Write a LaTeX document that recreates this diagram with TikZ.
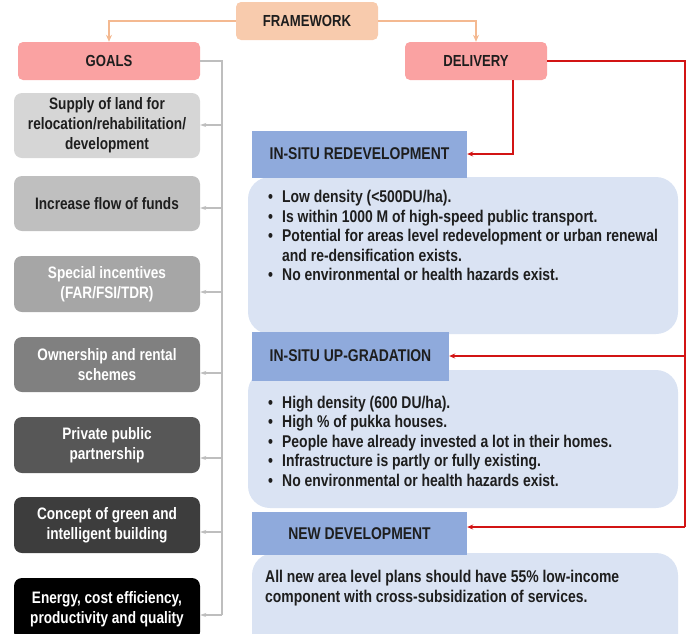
\documentclass[tikz,border=0pt]{standalone}
\usepackage{fontspec}
\setmainfont{Liberation Sans}[FakeStretch=0.82]
\usetikzlibrary{arrows.meta}
\definecolor{peach}{RGB}{248,203,173}
\definecolor{peachline}{RGB}{244,185,145}
\definecolor{pinkbox}{RGB}{250,162,162}
\definecolor{headblue}{RGB}{143,170,220}
\definecolor{bodyblue}{RGB}{218,227,243}
\definecolor{redline}{RGB}{210,20,20}
\definecolor{greyline}{RGB}{190,190,190}
\definecolor{textdark}{RGB}{30,30,30}
\newcommand{\bul}{\makebox[17pt][l]{\hspace{3pt}•}}
\newcommand{\ind}{\hspace*{17pt}}

\begin{document}
\begin{tikzpicture}[x=1pt,y=-1pt,
  top node/.style={rounded corners=5pt,inner sep=0pt,text=textdark,
    font=\fontsize{16}{19}\selectfont\bfseries},
  goal node/.style={rounded corners=8pt,inner sep=0pt,minimum width=186pt,
    align=center,font=\fontsize{16.6}{20}\selectfont\bfseries},
  head node/.style={inner sep=0pt,fill=headblue,text=textdark,
    font=\fontsize{17}{20}\selectfont\bfseries},
  body box/.style={inner sep=0pt,fill=bodyblue,rounded corners=22pt},
  list text/.style={anchor=base west,inner sep=0pt,align=left,text=textdark,
    font=\fontsize{17}{19.5}\selectfont\bfseries},
  red arrow/.style={draw=redline,line width=1.3pt,-{Stealth[length=6pt,width=5pt]}},
  grey arrow/.style={draw=greyline,line width=1.2pt,-{Stealth[length=6pt,width=4pt]}},
  peach arrow/.style={draw=peachline,line width=1.5pt,-{Stealth[length=7pt,width=6pt]}}]

  \useasboundingbox (0,0) rectangle (688,633);
  \clip (0,0) rectangle (688,633);

  % top row
  \node[top node,fill=peach,minimum width=142pt,minimum height=38pt] (frame) at (307,21) {FRAMEWORK};
  \node[top node,fill=pinkbox,minimum width=182pt,minimum height=38pt] (goals) at (109,61) {GOALS};
  \node[top node,fill=pinkbox,minimum width=142pt,minimum height=38pt] (delivery) at (476,61) {DELIVERY};

  \draw[peach arrow] (frame.west) -| (goals.north);
  \draw[peach arrow] (frame.east) -| (delivery.north);

  % goals column
  \node[goal node,fill=black!16,text=textdark,minimum height=65pt] (g1) at (107,125.5)
    {Supply of land for\\relocation/rehabilitation/\\development};
  \node[goal node,fill=black!25,text=textdark,minimum height=55pt] (g2) at (107,203.5)
    {Increase flow of funds};
  \node[goal node,fill=black!35,text=white,minimum height=56pt] (g3) at (107,284)
    {Special incentives\\(FAR/FSI/TDR)};
  \node[goal node,fill=black!50,text=white,minimum height=55pt] (g4) at (107,364.5)
    {Ownership and rental\\schemes};
  \node[goal node,fill=black!66,text=white,minimum height=56pt] (g5) at (107,445)
    {Private public\\partnership};
  \node[goal node,fill=black!76,text=white,minimum height=56pt] (g6) at (107,525)
    {Concept of green and\\intelligent building};
  \node[goal node,fill=black,text=white,minimum height=62pt] (g7) at (107,609)
    {Energy, cost efficiency,\\productivity and quality};

  \coordinate (gtop) at (222,61);
  \coordinate (gend) at (222,615);
  \draw[greyline,line width=1.2pt] (goals.east) -- (gtop) -- (gend);
  \foreach \n/\y in {1/125,2/208,3/292,4/373,5/458,6/532,7/615}{
    \coordinate (gl\n) at (222,\y);
    \draw[grey arrow] (gl\n) -- (g\n.east |- gl\n);
  }

  % delivery column
  \node[body box,minimum width=430pt,minimum height=157pt] (b1) at (463,255.5) {};
  \node[body box,minimum width=430pt,minimum height=138pt] (b2) at (463,439) {};
  \node[body box,minimum width=426pt,minimum height=130pt] (b3) at (465,618) {};

  \node[head node,minimum width=215pt,minimum height=47pt] (h1) at (359.5,154) {IN-SITU REDEVELOPMENT};
  \node[head node,minimum width=197pt,minimum height=49pt] (h2) at (350.5,356) {IN-SITU UP-GRADATION};
  \node[head node,minimum width=215pt,minimum height=43pt] (h3) at (359.5,533.5) {NEW DEVELOPMENT};

  % list nodes sit on the baseline of their last line
  \node[list text] (t1) at (265,280.5) {\bul Low density (<500DU/ha).\\
    \bul Is within 1000 M of high-speed public transport.\\
    \bul Potential for areas level redevelopment or urban renewal\\
    \ind and re-densification exists.\\
    \bul No environmental or health hazards exist.};
  \node[list text] (t2) at (265,486) {\bul High density (600 DU/ha).\\
    \bul High \% of pukka houses.\\
    \bul People have already invested a lot in their homes.\\
    \bul Infrastructure is partly or fully existing.\\
    \bul No environmental or health hazards exist.};
  \node[list text] (t3) at (265,602) {All new area level plans should have 55\% low-income\\
    component with cross-subsidization of services.};

  % red connectors
  \coordinate (ddown) at (513,80);
  \coordinate (rtop) at (685,61);
  \coordinate (rmid) at (685,356);
  \coordinate (rbot) at (685,527);
  \draw[red arrow] (ddown) |- (h1.east);
  \draw[redline,line width=1.3pt] (delivery.east) -- (rtop) -- (rbot);
  \draw[red arrow] (rmid) -- (h2.east);
  \draw[red arrow] (rbot) -- (rbot -| h3.east);
\end{tikzpicture}
\end{document}
